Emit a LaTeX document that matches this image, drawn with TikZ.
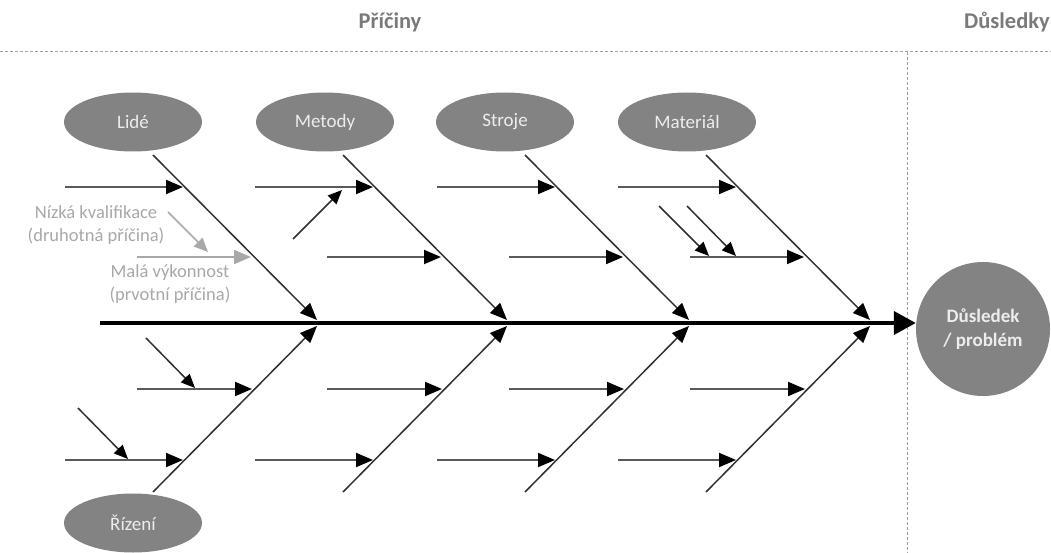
\documentclass[tikz,border=0pt]{standalone}
\usepackage{fontspec}
\setmainfont{Carlito}
\usetikzlibrary{arrows.meta,calc,shapes.geometric}
\definecolor{catgray}{HTML}{838383}
\definecolor{cattext}{HTML}{EDEDED}
\definecolor{headgray}{HTML}{7A7A7A}
\definecolor{notegray}{HTML}{A8A8A8}
\definecolor{bonecol}{HTML}{303030}
\definecolor{subcol}{HTML}{5A5A5A}
\definecolor{sepcol}{HTML}{A0A0A0}
\begin{document}
\begin{tikzpicture}[x=1pt,y=-1pt,
  cat/.style={ellipse, fill=catgray, minimum width=138pt, minimum height=59pt, inner sep=0pt,
    text=cattext, font=\fontsize{19}{22}\selectfont},
  effect/.style={circle, fill=catgray, minimum size=134pt, inner sep=0pt, align=center,
    text=cattext, font=\fontsize{19}{24}\selectfont\bfseries},
  head/.style={text=headgray, font=\fontsize{22.5}{26}\selectfont\bfseries, inner sep=0pt},
  note/.style={text=notegray, font=\fontsize{18.5}{23}\selectfont, align=center, inner sep=0pt},
  spine/.style={draw=black, line width=4pt, -{Triangle[length=22pt,width=23pt]}},
  bone/.style={draw=bonecol, line width=1.5pt, -{Triangle[length=17pt,width=14pt,color=black]}},
  sub/.style={draw=subcol, line width=2pt, -{Triangle[length=17pt,width=14pt,color=black]}},
  subnote/.style={draw=notegray, line width=2pt, -{Triangle[length=17pt,width=14pt,color=notegray]}},
  twig/.style={draw=bonecol, line width=1.5pt, -{Triangle[length=14pt,width=12pt,color=black]}},
  twignote/.style={draw=notegray, line width=1.5pt, -{Triangle[length=14pt,width=12pt,color=notegray]}},
  sep/.style={draw=sepcol, line width=1pt, dash pattern=on 3pt off 2pt}
]
\useasboundingbox (0,0) rectangle (1051,553);

% headers and separators
\node[head, anchor=base] (priciny) at (390,29) {Příčiny};
\node[head, anchor=base east] (dusledky) at (1050,29) {Důsledky};
\coordinate (hl) at (0,52);
\coordinate (hr) at (1051,52);
\coordinate (vt) at (907,52);
\coordinate (vb) at (907,553);
\draw[sep] (hl) -- (hr);
\draw[sep] (vt) -- (vb);

% effect and spine
\node[effect] (eff) at (983,329) {Důsledek\\/ problém};
\coordinate (spineL) at (100,323);
\draw[spine] (spineL) -- (spineL -| eff.west);

% categories
\node[cat] (lide) at (133,122) {Lidé};
\node[cat] (metody) at (325,122) {Metody};
\node[cat] (stroje) at (505,122) {Stroje};
\node[cat] (material) at (687,122) {Materiál};
\node[cat] (rizeni) at (133,523) {Řízení};

% bones and horizontal causes
\foreach \i/\x in {1/153,2/343,3/525,4/706}{
  \coordinate (u\i s) at (\x,155);
  \coordinate (u\i e) at (\x+164,320);
  \coordinate (l\i s) at (\x,492);
  \coordinate (l\i e) at (\x+164,326);
  \draw[bone] (u\i s) -- (u\i e);
  \draw[bone] (l\i s) -- (l\i e);
  % upper row 1
  \coordinate (a\i s) at (\x-88,187);
  \coordinate (a\i e) at (\x+30,187);
  \draw[sub] (a\i s) -- (a\i e);
  % lower rows
  \coordinate (c\i s) at (\x-16,389);
  \coordinate (c\i e) at (\x+99,389);
  \draw[sub] (c\i s) -- (c\i e);
  \coordinate (d\i s) at (\x-88,460);
  \coordinate (d\i e) at (\x+30,460);
  \draw[sub] (d\i s) -- (d\i e);
}
% upper row 2
\foreach \i/\x in {2/343,3/525,4/706}{
  \coordinate (b\i s) at (\x-16,257);
  \coordinate (b\i e) at (\x+98,257);
  \draw[sub] (b\i s) -- (b\i e);
}
\coordinate (b1s) at (137,257);
\coordinate (b1e) at (251,257);
\draw[subnote] (b1s) -- (b1e);

% secondary causes
\coordinate (t1s) at (293,239);
\coordinate (t1e) at (342,190);
\draw[twig] (t1s) -- (t1e);
\coordinate (t2s) at (659,206);
\coordinate (t2e) at (709,256);
\draw[twig] (t2s) -- (t2e);
\coordinate (t3s) at (687,206);
\coordinate (t3e) at (736,256);
\draw[twig] (t3s) -- (t3e);
\coordinate (t4s) at (146,338);
\coordinate (t4e) at (195,388);
\draw[twig] (t4s) -- (t4e);
\coordinate (t5s) at (78,408);
\coordinate (t5e) at (128,459);
\draw[twig] (t5s) -- (t5e);
\coordinate (t6s) at (168,212);
\coordinate (t6e) at (208,252);
\draw[twignote] (t6s) -- (t6e);

% notes
\node[note] (nizka) at (96,225) {Nízká kvalifikace\\(druhotná příčina)};
\node[note] (mala) at (170,284) {Malá výkonnost\\(prvotní příčina)};
\end{tikzpicture}
\end{document}
